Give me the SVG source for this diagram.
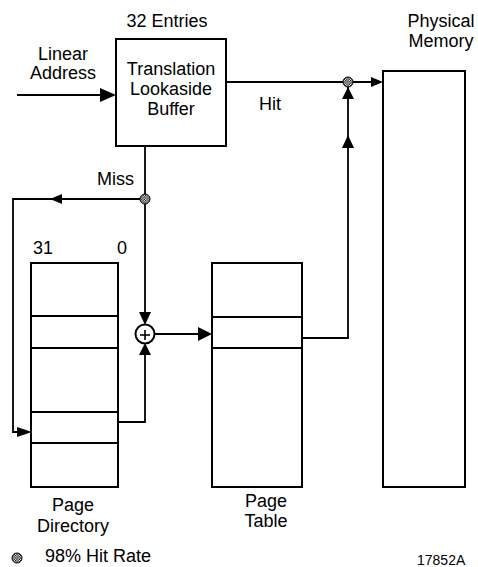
<svg xmlns="http://www.w3.org/2000/svg" width="478" height="567" viewBox="0 0 478 567">
<defs>
<style>
text{font-family:"Liberation Sans",Arial,sans-serif;font-size:18px;fill:#000}
.c{text-anchor:middle}
.box{fill:#fff;stroke:#000;stroke-width:2}
.ln{fill:none;stroke:#000;stroke-width:1.8}
.ah{fill:#000}
</style>
<pattern id="hatch" width="2.5" height="2.5" patternUnits="userSpaceOnUse">
<rect width="2.5" height="2.5" fill="#fff"/>
<rect width="1.25" height="1.25" fill="#000"/>
<rect x="1.25" y="1.25" width="1.25" height="1.25" fill="#000"/>
</pattern>
</defs>
<rect width="478" height="567" fill="#fff"/>

<g id="connectors">
<line class="ln" x1="17" y1="95" x2="104" y2="95"/>
<polygon class="ah" points="116,95 100,88 100,102"/>
<line class="ln" x1="226" y1="82" x2="374" y2="82"/>
<polygon class="ah" points="383,82 371,77 371,87"/>
<polyline class="ln" points="302,338 348,338 348,86"/>
<polygon class="ah" points="348,135 342,148 354,148"/>
<polygon class="ah" points="348,87 342,99 354,99"/>
<line class="ln" x1="145" y1="146" x2="145" y2="315"/>
<polyline class="ln" points="145,199 13,199 13,432 24,432"/>
<polygon class="ah" points="50,199 62,194 62,204"/>
<polygon class="ah" points="32,432 17,427 17,437"/>
<polygon class="ah" points="145,325 139,312 151,312"/>
<polyline class="ln" points="118,422 145,422 145,352"/>
<polygon class="ah" points="145,343 139,355 151,355"/>
<line class="ln" x1="154" y1="334" x2="200" y2="334"/>
<polygon class="ah" points="212,334 198,327 198,341"/>
<circle cx="348" cy="82" r="5" fill="url(#hatch)" stroke="#000" stroke-width="1"/>
<circle cx="145" cy="199" r="5" fill="url(#hatch)" stroke="#000" stroke-width="1"/>
</g>

<g id="tlb">
<rect class="box" x="116" y="39" width="110" height="107"/>
<text class="c" x="167" y="27">32 Entries</text>
<text class="c" x="171" y="75">Translation</text>
<text class="c" x="171" y="95">Lookaside</text>
<text class="c" x="171" y="115">Buffer</text>
</g>

<g id="linear-address">
<text class="c" x="63" y="60">Linear</text>
<text class="c" x="63" y="79">Address</text>
</g>

<g id="hit-label">
<text x="259" y="110">Hit</text>
</g>

<g id="miss-label">
<text x="97" y="185">Miss</text>
</g>

<g id="physical-memory">
<rect class="box" x="383" y="71" width="82" height="416"/>
<text class="c" x="441" y="27">Physical</text>
<text class="c" x="441" y="47">Memory</text>
</g>

<g id="page-directory">
<rect class="box" x="31" y="263" width="87" height="224"/>
<line class="ln" x1="31" y1="316" x2="118" y2="316"/>
<line class="ln" x1="31" y1="348" x2="118" y2="348"/>
<line class="ln" x1="31" y1="412" x2="118" y2="412"/>
<line class="ln" x1="31" y1="443" x2="118" y2="443"/>
<text x="33" y="254">31</text>
<text x="117" y="254">0</text>
<text class="c" x="73" y="511">Page</text>
<text class="c" x="73" y="532">Directory</text>
</g>

<g id="adder">
<circle cx="145" cy="334" r="9.5" fill="#fff" stroke="#000" stroke-width="2"/>
<line x1="140" y1="335" x2="150" y2="335" stroke="#000" stroke-width="1.6"/>
<line x1="145" y1="330" x2="145" y2="340" stroke="#000" stroke-width="1.6"/>
</g>

<g id="page-table">
<rect class="box" x="212" y="263" width="90" height="224"/>
<line class="ln" x1="212" y1="317" x2="302" y2="317"/>
<line class="ln" x1="212" y1="348" x2="302" y2="348"/>
<text class="c" x="266" y="507">Page</text>
<text class="c" x="266" y="527">Table</text>
</g>

<g id="legend">
<circle cx="17" cy="558" r="5" fill="url(#hatch)" stroke="#000" stroke-width="1"/>
<text x="45" y="562">98% Hit Rate</text>
<text x="417" y="565" style="font-size:14px">17852A</text>
</g>
</svg>
